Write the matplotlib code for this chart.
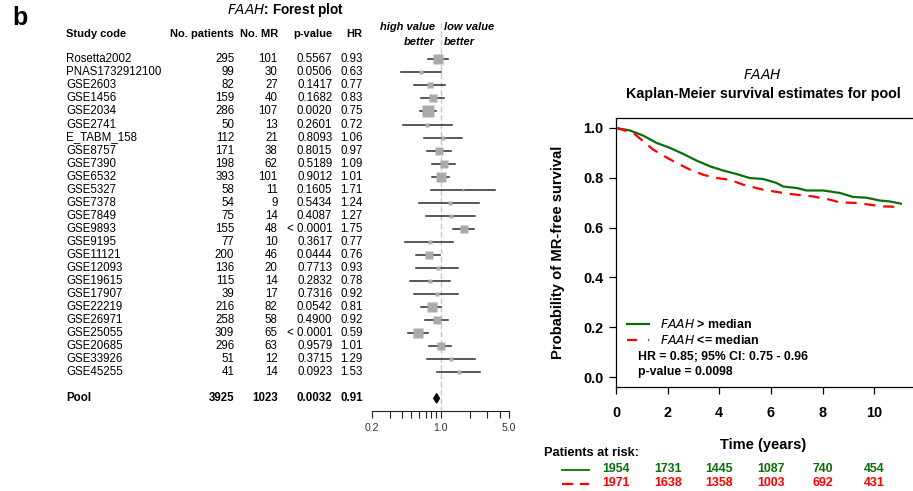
import numpy as np
import matplotlib
matplotlib.use("Agg")
from matplotlib import pyplot as plt
from matplotlib.transforms import blended_transform_factory

plt.rcParams['font.family'] = ['Liberation Sans', 'DejaVu Sans']

# forest plot data (one entry per study)
studies = ["Rosetta2002", "PNAS1732912100", "GSE2603", "GSE1456", "GSE2034", "GSE2741",
           "E_TABM_158", "GSE8757", "GSE7390", "GSE6532", "GSE5327", "GSE7378", "GSE7849",
           "GSE9893", "GSE9195", "GSE11121", "GSE12093", "GSE19615", "GSE17907", "GSE22219",
           "GSE26971", "GSE25055", "GSE20685", "GSE33926", "GSE45255"]
patients = [295, 99, 82, 159, 286, 50, 112, 171, 198, 393, 58, 54, 75, 155, 77, 200, 136,
            115, 39, 216, 258, 309, 296, 51, 41]
n_mr = [101, 30, 27, 40, 107, 13, 21, 38, 62, 101, 11, 9, 14, 48, 10, 46, 20, 14, 17, 82,
        58, 65, 63, 12, 14]
pvals = ["0.5567", "0.0506", "0.1417", "0.1682", "0.0020", "0.2601", "0.8093", "0.8015",
         "0.5189", "0.9012", "0.1605", "0.5434", "0.4087", "< 0.0001", "0.3617", "0.0444",
         "0.7713", "0.2832", "0.7316", "0.0542", "0.4900", "< 0.0001", "0.9579", "0.3715",
         "0.0923"]
hr = [0.93, 0.63, 0.77, 0.83, 0.75, 0.72, 1.06, 0.97, 1.09, 1.01, 1.71, 1.24, 1.27, 1.75,
      0.77, 0.76, 0.93, 0.78, 0.92, 0.81, 0.92, 0.59, 1.01, 1.29, 1.53]
ci_lo = [0.75, 0.39, 0.54, 0.63, 0.62, 0.41, 0.68, 0.72, 0.82, 0.81, 0.79, 0.60, 0.71, 1.35,
         0.43, 0.56, 0.56, 0.49, 0.54, 0.63, 0.69, 0.46, 0.76, 0.72, 0.92]
ci_hi = [1.18, 1.00, 1.11, 1.08, 0.90, 1.30, 1.65, 1.27, 1.41, 1.22, 3.59, 2.44, 2.24, 2.19,
         1.35, 0.98, 1.50, 1.24, 1.51, 1.01, 1.18, 0.74, 1.28, 2.24, 2.52]

pool_patients = 3925
pool_mr = 1023
pool_p = "0.0032"
pool_hr = 0.91
pool_lo = 0.85
pool_hi = 0.97

# Kaplan-Meier curves for the pool
t_high = [0, 0.54, 1.06, 1.57, 2.09, 2.6, 3.12, 3.64, 4.15, 4.67, 5.18, 5.7, 6.22, 6.47,
          6.99, 7.38, 8.02, 8.67, 9.18, 9.7, 10.2, 10.6, 11.03]
s_high = [1.0, 0.99, 0.969, 0.94, 0.92, 0.896, 0.869, 0.846, 0.829, 0.815, 0.799, 0.795,
          0.779, 0.765, 0.759, 0.749, 0.749, 0.739, 0.723, 0.72, 0.709, 0.705, 0.696]
t_low = [0, 0.67, 1.06, 1.44, 1.83, 2.35, 2.86, 3.38, 3.9, 4.41, 4.93, 5.7, 6.47, 6.99,
         7.63, 8.28, 8.67, 9.31, 9.83, 10.35, 11.03]
s_low = [1.0, 0.98, 0.946, 0.913, 0.889, 0.859, 0.833, 0.812, 0.799, 0.792, 0.772, 0.752,
         0.739, 0.732, 0.725, 0.712, 0.701, 0.699, 0.692, 0.685, 0.683]

risk_times = [0, 2, 4, 6, 8, 10]
risk_high = [1954, 1731, 1445, 1087, 740, 454]
risk_low = [1971, 1638, 1358, 1003, 692, 431]

W, H = 913, 491
GREEN = "#0a6e0a"
RED = "#ff0000"


def box(left, top, right, bottom):
    return [left / W, 1 - bottom / H, (right - left) / W, (bottom - top) / H]


fig = plt.figure(figsize=(W / 100, H / 100), dpi=100)

# ---- forest plot ----
ax_f = fig.add_axes(box(372.3, 20.2, 509, 411), facecolor="none")
ax_f.set_xscale("log")
ax_f.set_xlim(0.2, 5.0)
ax_f.set_ylim(26.97, -3.0)
rows = np.arange(len(studies))
pool_row = len(studies) + 1

ax_f.plot([1, 1], [-2.8, 26.97], color="#c8c8c8", lw=1, dashes=(4, 2), zorder=1)
for i in rows:
    ax_f.plot([ci_lo[i], ci_hi[i]], [i, i], color="#2a2a2a", lw=1.1, zorder=2)
    side = 3.1 / np.log(ci_hi[i] / ci_lo[i])
    ax_f.plot(hr[i], i, marker="s", ms=side, color="#aaaaaa", mec="none", zorder=3)
ax_f.fill([pool_lo, pool_hr, pool_hi, pool_hr],
          [pool_row, pool_row - 0.36, pool_row, pool_row + 0.36], color="black", zorder=3)

for s in ["top", "right", "left"]:
    ax_f.spines[s].set_visible(False)
ax_f.spines["bottom"].set_linewidth(0.8)
ax_f.spines["bottom"].set_color("#222222")
ax_f.set_yticks([])
ax_f.set_xticks([0.2, 1.0, 5.0])
ax_f.set_xticklabels(["0.2", "1.0", "5.0"])
ax_f.set_xticks([0.3, 0.4, 0.5, 0.6, 0.7, 0.8, 0.9, 2, 3, 4], minor=True)
ax_f.xaxis.set_minor_formatter(plt.NullFormatter())
ax_f.tick_params(axis="x", which="both", direction="out", length=5, width=0.8,
                 color="#222222", labelsize=7.5, labelcolor="#333333", pad=3.5)

hdr = dict(fontsize=8, fontweight="bold", fontstyle="italic", va="center")
ax_f.text(0.875, -2.48, "high value", ha="right", **hdr)
ax_f.text(0.875, -1.33, "better", ha="right", **hdr)
ax_f.text(1.08, -2.48, "low value", ha="left", **hdr)
ax_f.text(1.08, -1.33, "better", ha="left", **hdr)

# table text: x in figure pixels, y in forest rows
ax_bg = fig.add_axes([0, 0, 1, 1], facecolor="none", zorder=10)
ax_bg.set_xlim(0, W)
ax_bg.set_ylim(H, 0)
ax_bg.axis("off")
tr = blended_transform_factory(ax_bg.transData, ax_f.transData)

fs = 8.3
head_row = -1.92
ax_bg.text(66.5, head_row, "Study code", transform=tr, ha="left", va="center",
           fontsize=8, fontweight="bold")
for x, lab in [(234.3, "No. patients"), (278.3, "No. MR"), (332.3, "p-value"), (362.7, "HR")]:
    ax_bg.text(x, head_row, lab, transform=tr, ha="right", va="center",
               fontsize=8, fontweight="bold")

for i in rows:
    ax_bg.text(66, i, studies[i], transform=tr, ha="left", va="center", fontsize=fs)
    ax_bg.text(234.3, i, str(patients[i]), transform=tr, ha="right", va="center", fontsize=fs)
    ax_bg.text(277.7, i, str(n_mr[i]), transform=tr, ha="right", va="center", fontsize=fs)
    ax_bg.text(332.3, i, pvals[i], transform=tr, ha="right", va="center", fontsize=fs)
    ax_bg.text(362.7, i, "%.2f" % hr[i], transform=tr, ha="right", va="center", fontsize=fs)

pool = dict(transform=tr, va="center", fontsize=fs, fontweight="bold")
ax_bg.text(66, pool_row, "Pool", ha="left", **pool)
ax_bg.text(234.3, pool_row, str(pool_patients), ha="right", **pool)
ax_bg.text(277.7, pool_row, str(pool_mr), ha="right", **pool)
ax_bg.text(332.3, pool_row, pool_p, ha="right", **pool)
ax_bg.text(362.7, pool_row, "%.2f" % pool_hr, ha="right", **pool)

ax_bg.text(285.5, 9.5, r"$\bf\it{FAAH}$: Forest plot", ha="center", va="center",
           fontsize=9.8, fontweight="bold")
ax_bg.text(12, 17.5, "b", ha="left", va="center", fontsize=18, fontweight="bold")

# ---- Kaplan-Meier panel ----
ax_k = fig.add_axes(box(616, 118, 913, 387), facecolor="none")
ax_k.plot(t_high, s_high, color=GREEN, lw=1.6)
ax_k.plot(t_low, s_low, color=RED, lw=1.6, dashes=(5, 3.5))
ax_k.set_xlim(0, 11.5)
ax_k.set_ylim(-0.04, 1.04)
ax_k.spines["right"].set_visible(False)
for s in ["top", "left", "bottom"]:
    ax_k.spines[s].set_linewidth(0.9)
ax_k.set_xticks([0, 2, 4, 6, 8, 10])
ax_k.set_yticks([0.0, 0.2, 0.4, 0.6, 0.8, 1.0])
ax_k.set_yticklabels(["%.1f" % v for v in ax_k.get_yticks()])
ax_k.tick_params(axis="both", direction="out", length=5, width=0.9, labelsize=10.4)
ax_k.tick_params(axis="x", pad=9)
ax_k.tick_params(axis="y", pad=4)
for lab in ax_k.get_xticklabels() + ax_k.get_yticklabels():
    lab.set_fontweight("bold")
ax_k.set_ylabel("Probability of MR-free survival", fontsize=10.6, fontweight="bold")
ax_k.yaxis.set_label_coords(-0.172, 0.5)
ax_k.set_xlabel("Time (years)", fontsize=10.5, fontweight="bold")
ax_k.xaxis.set_label_coords(0.495, -0.19)

ax_bg.text(763, 75, r"$\bf\it{FAAH}$", ha="center", va="center", fontsize=10)
ax_bg.text(763, 94.3, "Kaplan-Meier survival estimates for pool", ha="center",
           va="center", fontsize=10.3, fontweight="bold")

# legend inside the survival panel
ax_bg.plot([626.5, 649], [324.3, 324.3], color=GREEN, lw=1.6)
ax_bg.plot([626.5, 649], [340, 340], color=RED, lw=1.6, dashes=(4.5, 5))
ax_bg.text(660.5, 324.3, r"$\bf\it{FAAH}$ > median", ha="left", va="center",
           fontsize=8.9, fontweight="bold")
ax_bg.text(660.5, 340, r"$\bf\it{FAAH}$ <= median", ha="left", va="center",
           fontsize=8.9, fontweight="bold")
ax_bg.text(637.5, 357.3, "HR = 0.85; 95% CI: 0.75 - 0.96", ha="left", va="center",
           fontsize=8.8, fontweight="bold")
ax_bg.text(637.5, 372, "p-value = 0.0098", ha="left", va="center",
           fontsize=8.8, fontweight="bold")

# numbers at risk under the time axis
tr_k = blended_transform_factory(ax_k.transData, ax_bg.transData)
ax_bg.text(544, 453, "Patients at risk:", ha="left", va="center", fontsize=9.2,
           fontweight="bold")
ax_bg.plot([562, 589], [469.5, 469.5], color=GREEN, lw=1.3)
ax_bg.plot([562, 589], [483.5, 483.5], color=RED, lw=1.6, dashes=(5, 3))
for t, nh, nl in zip(risk_times, risk_high, risk_low):
    ax_bg.text(t, 469.5, str(nh), transform=tr_k, ha="center", va="center",
               fontsize=8.9, fontweight="bold", color=GREEN)
    ax_bg.text(t, 483.5, str(nl), transform=tr_k, ha="center", va="center",
               fontsize=8.9, fontweight="bold", color=RED)

fig.savefig("out.png", dpi=100)
